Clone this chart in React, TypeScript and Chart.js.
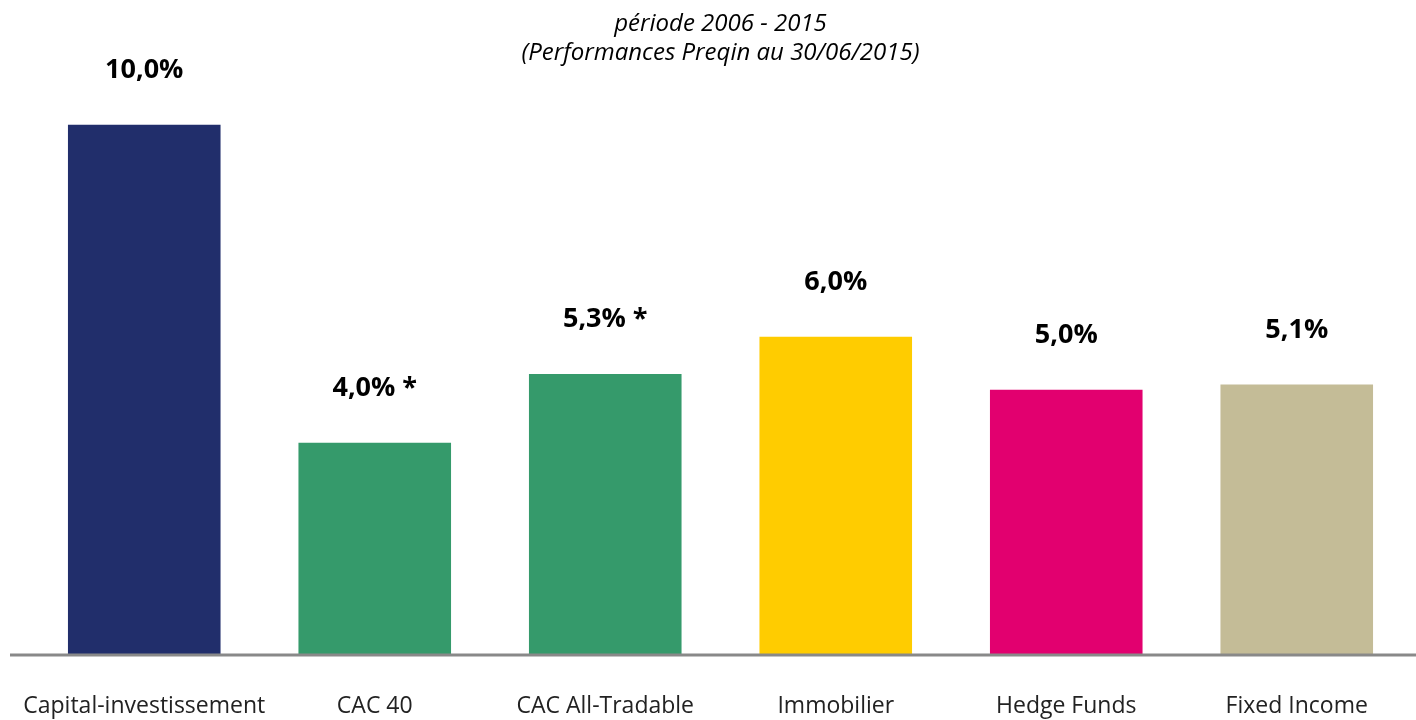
import React, { useEffect, useRef } from "react";
import { Chart, registerables } from "chart.js";

Chart.register(...registerables);

const categories = ["Capital-investissement", "CAC 40", "CAC All-Tradable", "Immobilier", "Hedge Funds", "Fixed Income"];
const values = [10.0, 4.0, 5.3, 6.0, 5.0, 5.1];
const valueLabels = ["10,0%", "4,0% *", "5,3% *", "6,0%", "5,0%", "5,1%"];
const barColors = ["#212E6B", "#359A6B", "#359A6B", "#FFCC00", "#E2006F", "#C4BC97"];
const titleLines = ["période 2006 - 2015", "(Performances Preqin au 30/06/2015)"];

const FONT = "'Open Sans', Lato, sans-serif";

const overlayPlugin = {
  id: "overlay",
  afterDatasetsDraw(chart: any) {
    const ctx = chart.ctx;
    const y0 = chart.scales.y.getPixelForValue(0);
    ctx.save();
    // axis line
    ctx.strokeStyle = "#898989";
    ctx.lineWidth = 3;
    ctx.beginPath();
    ctx.moveTo(10, y0);
    ctx.lineTo(chart.width, y0);
    ctx.stroke();
    // value labels
    const meta = chart.getDatasetMeta(0);
    ctx.fillStyle = "#000000";
    ctx.font = `bold 27px ${FONT}`;
    ctx.textAlign = "center";
    ctx.textBaseline = "alphabetic";
    meta.data.forEach((bar: any, i: number) => {
      ctx.fillText(valueLabels[i], bar.x, bar.y - 47);
    });
    ctx.restore();
  },
};

export default function App() {
  const ref = useRef<HTMLCanvasElement>(null);
  useEffect(() => {
    document.body.style.margin = "0";
    const chart = new Chart(ref.current!, {
      type: "bar",
      data: {
        labels: categories,
        datasets: [
          {
            data: values,
            backgroundColor: barColors,
            borderWidth: 0,
            categoryPercentage: 1,
            barPercentage: 0.662,
          },
        ],
      },
      options: {
        animation: false,
        responsive: false,
        maintainAspectRatio: false,
        layout: { padding: { left: 29, right: 4, top: 0, bottom: 0 } },
        plugins: {
          legend: { display: false },
          tooltip: { enabled: false },
          title: {
            display: true,
            text: titleLines,
            color: "#000000",
            font: { family: FONT, size: 24, style: "italic", weight: "normal", lineHeight: 1.2 },
            padding: { top: 10, bottom: 12 },
          },
        },
        scales: {
          x: {
            grid: { display: false, drawTicks: false },
            border: { display: false },
            ticks: { color: "#222222", font: { family: FONT, size: 23 }, padding: 38, maxRotation: 0, autoSkip: false },
            afterFit(scale: any) {
              scale.height = 65;
              scale.paddingLeft = 0;
              scale.paddingRight = 0;
            },
          },
          y: {
            display: false,
            min: 0,
            max: 10.85,
          },
        },
      },
      plugins: [overlayPlugin],
    });
    return () => chart.destroy();
  }, []);
  return <canvas ref={ref} width={1416} height={720} style={{ display: "block" }} />;
}
